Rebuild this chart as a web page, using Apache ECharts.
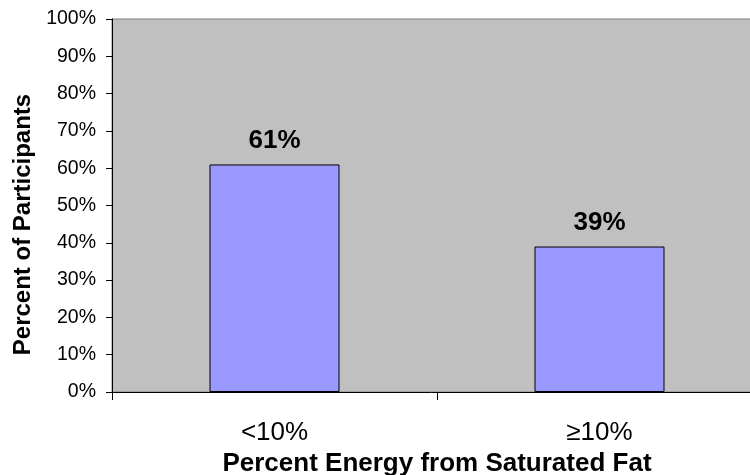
<!DOCTYPE html>
<html><head><meta charset="utf-8">
<script src="https://cdn.jsdelivr.net/npm/echarts@6/dist/echarts.min.js"></script>
<style>html,body{margin:0;padding:0;background:#fff}#c{width:750px;height:475px}</style>
</head><body><div id="c"></div>
<script>
const categories = ['<10%', '≥10%'];
const values = [61, 39];
const yTicks = [0, 10, 20, 30, 40, 50, 60, 70, 80, 90, 100];
const chart = echarts.init(document.getElementById('c'), null, {renderer: 'canvas'});
const F = 'Arial, "Liberation Sans", sans-serif';
chart.setOption({
  animation: false,
  grid: {left: 112, top: 19, width: 650, height: 373, show: true, backgroundColor: '#c0c0c0', borderColor: '#808080', borderWidth: 1, containLabel: false, outerBoundsMode: 'none'},
  xAxis: {
    type: 'category', data: categories, boundaryGap: true,
    axisLine: {lineStyle: {color: '#000', width: 1}},
    axisTick: {show: true, length: 8, alignWithLabel: false, lineStyle: {color: '#000'}},
    axisLabel: {color: '#000', fontSize: 26, fontFamily: F, margin: 28},
    name: 'Percent Energy from Saturated Fat', nameLocation: 'middle', nameGap: 45,
    nameTextStyle: {color: '#000', fontSize: 26, fontWeight: 'bold', fontFamily: F}
  },
  yAxis: {
    type: 'value', min: 0, max: 100, interval: 10,
    axisLine: {show: true, lineStyle: {color: '#000', width: 1}},
    axisTick: {show: true, length: 6, lineStyle: {color: '#000'}},
    splitLine: {show: false},
    axisLabel: {color: '#000', fontSize: 19.5, fontFamily: F, margin: 16, formatter: v => yTicks.includes(v) ? v + '%' : ''},
    name: 'Percent of Participants', nameLocation: 'middle', nameGap: 76, nameRotate: 90,
    nameTextStyle: {color: '#000', fontSize: 24, fontWeight: 'bold', fontFamily: F, padding: [0, 38, 0, 0]}
  },
  series: [{
    type: 'bar', data: values, barWidth: '40%',
    itemStyle: {color: '#9999ff', borderColor: '#000', borderWidth: 1},
    label: {show: true, position: 'top', distance: 11, formatter: p => p.value + '%', color: '#000', fontSize: 26, fontWeight: 'bold', fontFamily: F}
  }]
});
</script></body></html>
